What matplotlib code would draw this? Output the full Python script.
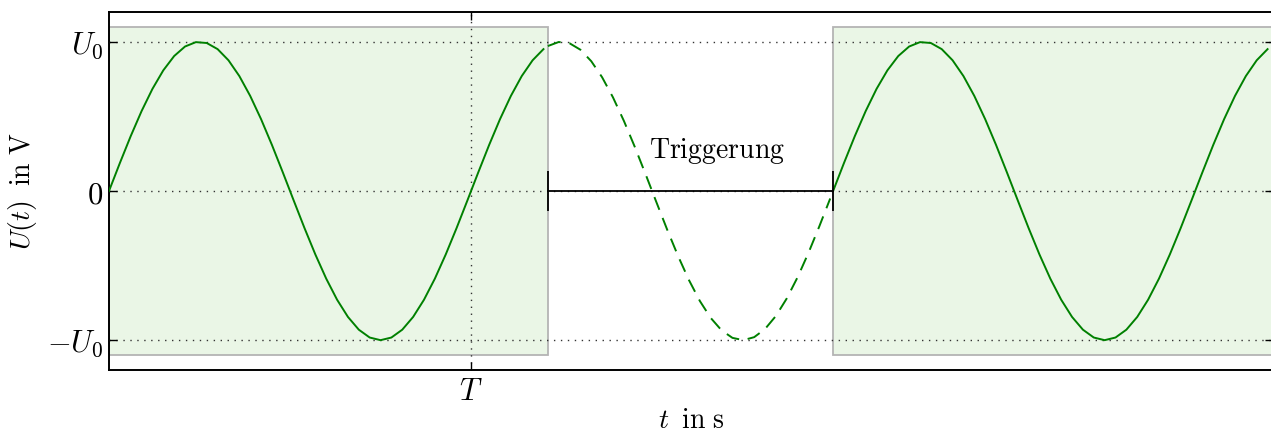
import numpy as np
import matplotlib
matplotlib.use("Agg")
import matplotlib.pyplot as plt
from matplotlib.patches import Rectangle

# Signal: U(t) = U0 * sin(2*pi*t/T), in units of T and U0
U0 = 1.0
T = 1.0
x_max = 3.215
shown_1 = (0.0, 1.212)      # first visible window
hidden = (1.212, 2.0)       # trigger wait (dashed)
shown_2 = (2.0, x_max)      # second visible window
box_height = 1.1

ytick_pos = [-U0, 0, U0]
ytick_labels = [r"$-U_0$", r"$0$", r"$U_0$"]
xtick_pos = [T]
xtick_labels = [r"$T$"]

plt.rcParams["mathtext.fontset"] = "cm"
plt.rcParams["font.family"] = "serif"

fig = plt.figure(figsize=(12.71, 4.34), dpi=100)
ax = fig.add_axes([109 / 1271, 1 - 370 / 434, 1164 / 1271, 358 / 434])

green = "#008000"
step = 0.03

for a, b in [shown_1, shown_2]:
    ax.add_patch(Rectangle((a, -box_height), b - a, 2 * box_height,
                           facecolor="#eaf6e6", edgecolor="#b4b4b4", lw=1.3, zorder=1))
    t = np.arange(a, b + step / 2, step)
    ax.plot(t, U0 * np.sin(2 * np.pi * t / T), color=green, lw=1.4, zorder=3)

t = np.arange(hidden[0], hidden[1] + step / 2, step)
ax.plot(t, U0 * np.sin(2 * np.pi * t / T), color=green, lw=1.4, ls=(0, (7, 4.5)), zorder=3)

# Trigger marker
ax.plot([hidden[0], hidden[1]], [0, 0], color="black", lw=1.3, zorder=4)
ax.vlines([hidden[0], hidden[1]], -0.135, 0.135, color="black", lw=1.3, zorder=4)
ax.text(1.68, 0.165, r"$\mathrm{Triggerung}$",
        ha="center", va="bottom", fontsize=20)

ax.set_xlim(0, x_max)
ax.set_ylim(-1.2, 1.2)
ax.set_yticks(ytick_pos)
ax.set_yticklabels(ytick_labels, fontsize=22)
ax.set_xticks(xtick_pos)
ax.set_xticklabels(xtick_labels, fontsize=22)
ax.tick_params(direction="in", length=6, width=1, top=True, right=True, pad=4)
ax.grid(True, ls=(0, (1, 4)), color="#333333", lw=1.0)
ax.set_axisbelow(False)
for s in ax.spines.values():
    s.set_linewidth(1.4)

ax.set_xlabel(r"$t\;\;\mathrm{in\ s}$", fontsize=20, labelpad=0)
ax.set_ylabel(r"$U(t)\;\;\mathrm{in\ V}$", fontsize=20, labelpad=6)

fig.savefig("out.png", dpi=100)
